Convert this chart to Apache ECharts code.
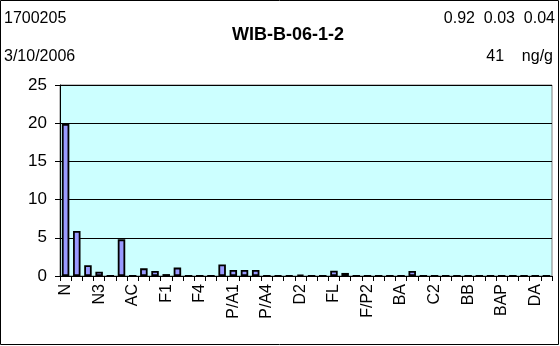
<!DOCTYPE html>
<html>
<head>
<meta charset="utf-8">
<script src="https://cdn.jsdelivr.net/npm/echarts@6/dist/echarts.min.js"></script>
<style>
html,body{margin:0;padding:0;background:#fff;}
#c{width:560px;height:346px;}
</style>
</head>
<body>
<div id="c"></div>
<script>
var categories = ["N","N1","N2","N3","N4","BI","AC","AE","F","F1","F2","F3","F4","A","P","P/A1","P/A2","P/A3","P/A4","D","D1","D2","D3","D4","FL","PY","F/P1","F/P2","F/P3","F/P4","BA","C","C1","C2","C3","C4","BB","BK","BE","BAP","PER","IP","DA","BP"];
var values = [19.9,5.9,1.4,0.55,0,4.8,0,1.0,0.65,0.25,1.1,0,0,0,1.5,0.8,0.8,0.8,0,0.05,0.05,0.15,0,0,0.7,0.4,0,0,0,0,0,0.65,0,0,0,0,0,0,0,0,0,0,0,0];
var yTicks = [0,5,10,15,20,25];
var headerLeft = ["1700205","3/10/2006"];
var titleText = "WIB-B-06-1-2";
var headerRight = ["0.92  0.03  0.04","41    ng/g"];

var chart = echarts.init(document.getElementById('c'), null, {renderer:'canvas'});
var font = 'Arial, "Liberation Sans", sans-serif';
chart.setOption({
  animation:false,
  backgroundColor:'#ffffff',
  grid:{left:60,right:8,top:85,bottom:70,show:true,backgroundColor:'#CCFFFF',borderColor:'#808080',borderWidth:1},
  xAxis:{
    type:'category',data:categories,boundaryGap:true,
    axisLine:{show:true,lineStyle:{color:'#000',width:1}},
    axisTick:{show:true,interval:0,length:5,lineStyle:{color:'#000'}},
    axisLabel:{interval:2,rotate:90,fontSize:16,color:'#000',fontFamily:font,margin:8}
  },
  yAxis:{
    type:'value',min:yTicks[0],max:yTicks[yTicks.length-1],interval:5,
    axisLine:{show:true,lineStyle:{color:'#000',width:1}},
    axisTick:{show:true,length:5,lineStyle:{color:'#000'}},
    axisLabel:{fontSize:17,color:'#000',fontFamily:font,margin:13},
    splitLine:{show:true,lineStyle:{color:'#000',width:1}}
  },
  series:[{
    type:'bar',data:values,barWidth:7.5,
    itemStyle:{color:'#9999FF',borderColor:'#000',borderWidth:1.8}
  }],
  graphic:[
    {type:'rect',shape:{x:0.5,y:0.5,width:558,height:344},style:{fill:'none',stroke:'#000',lineWidth:1},silent:true},
    {type:'text',x:4,y:19,style:{text:headerLeft[0],font:'16px '+font,fill:'#000',verticalAlign:'middle'}},
    {type:'text',x:4,y:57,style:{text:headerLeft[1],font:'16px '+font,fill:'#000',verticalAlign:'middle'}},
    {type:'text',x:288,y:35,style:{text:titleText,font:'bold 18px '+font,fill:'#000',align:'center',verticalAlign:'middle'}},
    {type:'text',x:555,y:19,style:{text:headerRight[0],font:'16px '+font,fill:'#000',align:'right',verticalAlign:'middle'}},
    {type:'text',x:553,y:57,style:{text:headerRight[1],font:'16px '+font,fill:'#000',align:'right',verticalAlign:'middle'}}
  ]
});
</script>
</body>
</html>
